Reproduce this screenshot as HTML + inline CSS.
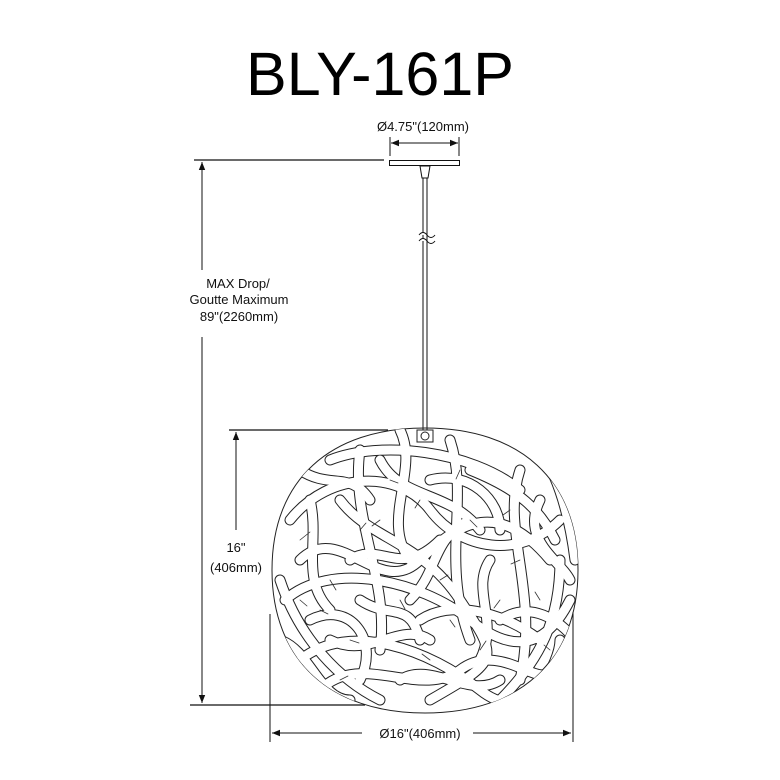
<!DOCTYPE html>
<html><head><style>
html,body{margin:0;padding:0;background:#fff;}
svg{display:block;}
text{font-family:"Liberation Sans",Arial,sans-serif;fill:#111;}
</style></head><body>
<svg width="780" height="780" viewBox="0 0 780 780" xmlns="http://www.w3.org/2000/svg">
<defs>
<marker id="a" viewBox="0 0 10 10" refX="10" refY="5" markerWidth="10" markerHeight="8" orient="auto-start-reverse" markerUnits="userSpaceOnUse"><path d="M0,1 L10,5 L0,9 z" fill="#111"/></marker>
<clipPath id="c"><path d="M425,428 C520,428 578,480 578,570 C578,660 520,713 425,713 C330,713 272,660 272,570 C272,480 330,428 425,428 Z"/></clipPath>
<g id="rib">
<path d="M290,520 C330,470 400,470 430,510 S520,560 560,520"/>
<path d="M285,600 C330,560 420,580 470,620 S550,640 570,600"/>
<path d="M300,660 C350,620 430,650 480,690 S560,660 560,640"/>
<path d="M330,460 C380,440 470,450 520,490"/>
<path d="M360,450 C350,520 390,580 380,650"/>
<path d="M450,440 C470,500 440,560 470,640"/>
<path d="M520,470 C500,530 540,590 520,680"/>
<path d="M300,560 C340,520 380,600 420,560 S500,500 550,560"/>
<path d="M320,690 C360,650 420,700 460,670 S540,690 550,670"/>
<path d="M400,430 C420,470 380,520 410,560"/>
<path d="M280,580 C300,640 340,680 380,700"/>
<path d="M560,560 C560,620 540,660 500,700"/>
<path d="M340,500 C370,540 420,540 460,600 S500,660 430,700"/>
<path d="M420,620 C450,600 500,610 540,640"/>
<path d="M310,620 C350,600 380,640 360,680"/>
<path d="M470,470 C520,490 540,510 555,540"/>
<path d="M380,460 C400,500 450,490 480,530"/>
<path d="M310,500 C320,540 300,580 330,610"/>
<path d="M540,500 C520,540 560,560 570,580"/>
<path d="M350,560 C380,540 400,580 440,540"/>
<path d="M490,560 C470,590 500,620 480,660"/>
<path d="M330,640 C370,660 400,620 430,640"/>
<path d="M400,680 C430,660 470,700 500,680"/>
<path d="M430,480 C470,470 500,500 500,530"/>
<path d="M280,640 C310,650 320,700 350,700"/>
<path d="M540,450 C560,480 570,520 575,560"/>
<path d="M410,600 C440,570 430,540 470,520"/>
<path d="M360,600 C390,620 410,600 420,640"/>
<path d="M300,470 C330,490 350,470 370,500"/>
<path d="M500,620 C530,600 560,620 575,640"/>
</g>
</defs>
<text x="380" y="95" font-size="61" text-anchor="middle" style="fill:#000">BLY-161P</text>
<text x="423" y="131" font-size="13" text-anchor="middle">Ø4.75"(120mm)</text>
<line x1="390" y1="137" x2="390" y2="156" stroke="#111"/>
<line x1="459" y1="137" x2="459" y2="156" stroke="#111"/>
<line x1="391" y1="143" x2="458" y2="143" stroke="#111" marker-start="url(#a)" marker-end="url(#a)"/>
<rect x="389.5" y="160.5" width="70" height="5" fill="#fff" stroke="#111"/>
<path d="M420,166 L430,166 L428,178 L422,178 Z" fill="#fff" stroke="#111"/>
<line x1="423" y1="178" x2="423" y2="430" stroke="#111"/>
<line x1="427" y1="178" x2="427" y2="430" stroke="#111"/>
<path d="M419,235 q4,-5 8,0 t8,0 M419,241 q4,-5 8,0 t8,0" fill="#fff" stroke="#111"/>
<line x1="194" y1="160" x2="384" y2="160" stroke="#111" stroke-width="1.3"/>
<line x1="202" y1="270" x2="202" y2="162" stroke="#111" marker-end="url(#a)"/>
<text x="238" y="288" font-size="13" text-anchor="middle">MAX Drop/</text>
<text x="239" y="304" font-size="13" text-anchor="middle">Goutte Maximum</text>
<text x="239" y="321" font-size="13" text-anchor="middle">89"(2260mm)</text>
<line x1="202" y1="337" x2="202" y2="703" stroke="#111" marker-end="url(#a)"/>
<line x1="190" y1="705" x2="365" y2="705" stroke="#111" stroke-width="1.3"/>
<line x1="229" y1="430" x2="388" y2="430" stroke="#111" stroke-width="1.3"/>
<line x1="236" y1="530" x2="236" y2="432" stroke="#111" marker-end="url(#a)"/>
<text x="236" y="552" font-size="13" text-anchor="middle">16"</text>
<text x="236" y="572" font-size="13" text-anchor="middle">(406mm)</text>
<line x1="270" y1="614" x2="270" y2="742" stroke="#111"/>
<line x1="573" y1="612" x2="573" y2="742" stroke="#111"/>
<line x1="272" y1="733" x2="362" y2="733" stroke="#111" marker-start="url(#a)"/>
<line x1="473" y1="733" x2="571" y2="733" stroke="#111" marker-end="url(#a)"/>
<text x="420" y="738" font-size="13" text-anchor="middle">Ø16"(406mm)</text>
<g fill="none" stroke-linecap="round">
<path d="M425,428 C520,428 578,480 578,570 C578,660 520,713 425,713 C330,713 272,660 272,570 C272,480 330,428 425,428 Z" stroke="#222" stroke-width="1"/>
<g clip-path="url(#c)">
<use href="#rib" stroke="#222" stroke-width="11"/>
<use href="#rib" stroke="#fff" stroke-width="9"/>
<g stroke="#333" stroke-width="0.8">
<path d="M300,540 l10,-8 M330,580 l6,10 M380,520 l-8,6 M440,580 l8,-5 M500,600 l-6,8 M350,640 l9,3 M470,520 l7,7 M520,560 l-9,4 M400,600 l5,9 M430,660 l-8,-6 M480,650 l6,-9 M320,610 l8,4 M540,600 l-5,-8 M390,480 l8,3 M460,470 l-4,9 M360,530 l6,-7 M510,510 l-7,5 M450,620 l5,7 M340,680 l8,-4 M550,650 l-6,-5 M420,500 l-5,8 M300,600 l7,6"/>
</g>
</g>
<rect x="417" y="430" width="16" height="12" fill="#fff" stroke="#222"/>
<circle cx="425" cy="436" r="4" fill="#fff" stroke="#222"/>
</g>
</svg>
</body></html>
